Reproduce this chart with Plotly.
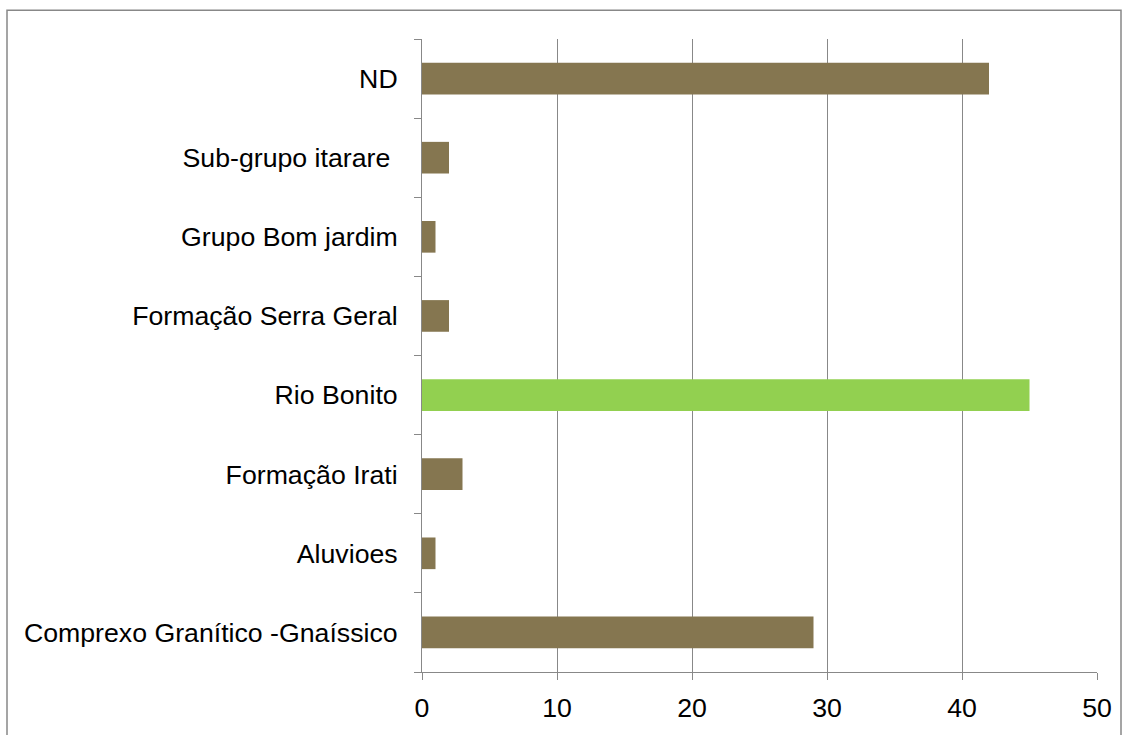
import plotly.graph_objects as go

# Geological units (bottom to top) and their counts
categories = [
    "Comprexo Granítico -Gnaíssico",
    "Aluvioes",
    "Formação Irati",
    "Rio Bonito",
    "Formação Serra Geral",
    "Grupo Bom jardim",
    "Sub-grupo itarare\u00a0",
    "ND",
]
values = [29, 1, 3, 45, 2, 1, 2, 42]
highlight = "Rio Bonito"

BROWN = "#857650"
GREEN = "#92D050"
GRID = "#888888"

colors = [GREEN if c == highlight else BROWN for c in categories]

W, H = 1129, 735
ml, mr, mt, mb = 422, 32, 39, 57
pw, ph = W - ml - mr, H - mt - mb

fig = go.Figure(
    go.Bar(
        x=values,
        y=categories,
        orientation="h",
        marker=dict(color=colors, line=dict(width=0)),
        width=0.4,
        hoverinfo="x+y",
    )
)

fig.update_layout(
    width=W,
    height=H,
    margin=dict(l=ml, r=mr, t=mt, b=mb, pad=0),
    paper_bgcolor="white",
    plot_bgcolor="white",
    font=dict(family="Liberation Sans, Arial, sans-serif", size=26.7, color="#000000"),
    showlegend=False,
    xaxis=dict(
        range=[0, 50],
        tickvals=[0, 10, 20, 30, 40, 50],
        showgrid=True,
        gridcolor=GRID,
        gridwidth=1,
        showline=True,
        linecolor=GRID,
        linewidth=1,
        ticks="outside",
        ticklen=7,
        tickcolor=GRID,
        ticklabelstandoff=5,
        zeroline=False,
        fixedrange=True,
    ),
    yaxis=dict(
        type="category",
        categoryorder="array",
        categoryarray=categories,
        range=[-0.5, len(categories) - 0.5],
        showgrid=False,
        showline=True,
        linecolor=GRID,
        linewidth=1,
        ticks="outside",
        tickson="boundaries",
        ticklen=7,
        tickcolor=GRID,
        ticklabelstandoff=18,
        zeroline=False,
        fixedrange=True,
    ),
)

# Outer chart frame
fig.add_shape(
    type="rect",
    xref="paper",
    yref="paper",
    x0=(7 - ml) / pw,
    x1=(1121 - ml) / pw,
    y0=-0.3,
    y1=1 + (mt - 10) / ph,
    line=dict(color=GRID, width=1.5),
    fillcolor="rgba(0,0,0,0)",
    layer="below",
)

fig.write_html("out.html")
